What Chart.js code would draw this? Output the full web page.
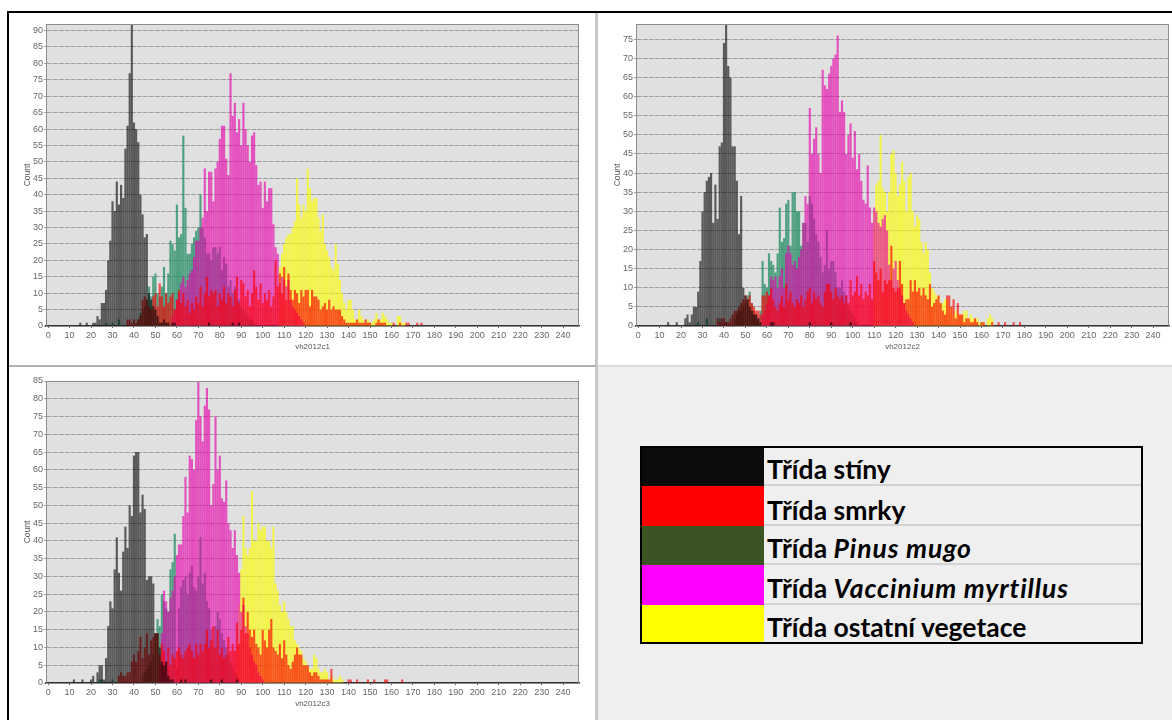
<!DOCTYPE html>
<html>
<head>
<meta charset="utf-8">
<script src="https://cdn.jsdelivr.net/npm/chart.js@4"></script>
<style>
    html, body { margin: 0; padding: 0; background: #fff; }
    body { position: relative; width: 1172px; height: 720px; overflow: hidden; }
    .line { position: absolute; }
    canvas { position: absolute; filter: blur(0.4px); }
    #legend {
        position: absolute; left: 640px; top: 446px; width: 499px; height: 194px;
        border: 2px solid #000; font: bold 26.5px Lato, sans-serif; color: #000;
    }
    #legend div.row { position: relative; padding-left: 125px; box-sizing: border-box; border-bottom: 2px solid #d2d2d2; }
    #legend div.row:last-child { border-bottom: 0; }
    #legend span.swatch { position: absolute; left: 0; top: 0; width: 122px; height: 100%; }
    #legend i { letter-spacing: 0.9px; }
</style>
</head>
<body>
<div class="line" style="left:597px;top:366px;width:575px;height:354px;background:#efefef"></div>
<div class="line" style="left:7px;top:11px;width:1165px;height:2px;background:#000"></div>
<div class="line" style="left:7px;top:11px;width:2px;height:709px;background:#000"></div>
<div class="line" style="left:595px;top:13px;width:3px;height:707px;background:#c8c8c8"></div>
<div class="line" style="left:9px;top:365px;width:587px;height:2px;background:#b0b0b0"></div>
<div class="line" style="left:598px;top:365px;width:574px;height:2px;background:#dcdcdc"></div>

<canvas id="chart1" width="565" height="342" style="left:20px;top:14px"></canvas>
<canvas id="chart2" width="565" height="342" style="left:610px;top:14px"></canvas>
<canvas id="chart3" width="565" height="342" style="left:20px;top:371px"></canvas>

<div id="legend">
    <div class="row" style="height:38px;line-height:42px"><span class="swatch" style="background:#0c0c0c;height:38px"></span>Třída stíny</div>
    <div class="row" style="height:40px;line-height:48px"><span class="swatch" style="background:#ff0000;height:40px"></span>Třída smrky</div>
    <div class="row" style="height:39px;line-height:44px"><span class="swatch" style="background:#3a5423;height:39px"></span>Třída <i>Pinus mugo</i></div>
    <div class="row" style="height:40px;line-height:46px"><span class="swatch" style="background:#ff00ff;height:40px"></span>Třída <i>Vaccinium myrtillus</i></div>
    <div class="row" style="height:37px;line-height:44px"><span class="swatch" style="background:#ffff00;height:37px"></span>Třída ostatní vegetace</div>
</div>

<script>
// Counts per bin. Every array starts at the bin in its *From constant.

// vh2012c1
const c1StinyFrom = 15;
const c1Stiny = [1,0,0,1,0,0,1,1,3,2,7,7,11,20,26,38,35,44,37,43,39,54,61,77,95,62,60,56,40,34,27,28,10,8,6,5,3,1,1,2,1,1,0,1,1,
    0,0,0,0,0,0,0,0,0,0,0,0,0,0,0,1,0,0,0,0,0,0,0,0,0,0,1,0,0,1];
const c1SmrkyFrom = 37;
const c1Smrky = [2,2,1,2,1,2,3,8,9,8,6,5,9,10,6,13,9,6,10,7,9,10,5,8,11,7,10,6,8,4,7,5,9,7,12,6,10,15,9,11,10,11,6,10,8,12,7,10,9,6,11,15,7,14,13,9,11,6,10,17,12,8,13,7,10,8,11,6,9,20,12,16,10,18,8,16,11,8,11,10,7,11,9,11,11,6,11,9,9,8,5,6,7,5,8,5,6,5,5,5,3,2,1,1,1,1,1,2,1,1,1,2,1,1,0,0,1,2,1,1,1,0,0,0,1,0,0,1,0,0,1,1,0,0,0,1,0,1];
const c1PinusFrom = 27;
const c1Pinus = [1,0,0,1,0,0,2,0,0,0,0,0,0,0,0,2,4,5,6,8,12,9,15,16,10,9,12,18,10,16,26,25,23,37,27,28,58,36,22,22,25,27,29,30,40,30,27,22,22,20,24,24,22,24,17,21,19,12,14,10,12,8,8,6,5,4,3,2,2,1];
const c1VacciniumFrom = 58;
const c1Vaccinium = [3,5,8,10,13,15,12,14,16,17,21,26,26,30,33,48,35,47,47,38,48,50,57,61,61,51,46,77,64,68,59,63,55,68,60,55,50,58,59,49,43,44,36,44,38,42,42,31,24,22,13,15,14,12,14,8,6,5,4,3,2,1];
const c1OstatniFrom = 108;
const c1Ostatni = [18,22,25,27,28,28,30,32,45,37,33,37,35,48,42,38,39,39,33,29,34,25,23,21,18,17,25,19,14,10,7,5,8,8,5,2,2,5,3,2,1,2,1,1,2,4,2,2,4,3,2,1,1,0,0,3,3,1,1];

// vh2012c2
const c2StinyFrom = 14;
const c2Stiny = [1,0,0,0,1,0,0,0,2,3,1,3,5,5,9,17,30,35,38,39,40,27,37,28,47,48,74,85,68,65,47,47,38,24,34,10,8,7,5,4,3,3,2,1,0,0,0,0,1,1,
    0,0,0,0,0,0,0,0,0,0,0,0,0,0,0,0,1,0,0,0,0,0,0,0,0,0,1,0,0,0,0,0,0,0,0,1];
const c2SmrkyFrom = 37;
const c2Smrky = [2,1,2,2,1,1,2,3,4,4,5,6,7,8,7,8,6,5,4,4,3,8,8,9,8,10,7,5,4,6,8,5,11,7,9,6,5,7,6,8,5,7,9,10,6,9,7,8,6,5,9,11,11,9,7,10,8,7,8,6,8,6,12,8,9,13,8,11,7,9,8,11,7,17,14,12,15,9,12,11,12,21,10,9,10,17,11,6,7,7,12,9,12,9,10,8,10,8,7,11,5,6,7,8,6,4,3,8,8,5,7,2,6,3,3,1,2,2,1,1,2,1,0,1,1,0,0,0,1,0,0,1,0,0,1,0,0,0,1,0,0,1];
const c2PinusFrom = 28;
const c2Pinus = [1,0,0,0,2,0,0,0,0,0,2,0,0,1,0,0,0,2,3,4,4,5,6,8,9,6,4,3,2,4,17,11,10,19,17,16,14,19,31,22,23,32,33,21,35,35,30,30,21,27,27,22,34,32,28,24,22,18,14,16,25,15,17,17,14,10,10,12,9,8,5,4,3,2,1];
const c2VacciniumFrom = 58;
const c2Vaccinium = [3,4,6,8,13,12,13,10,13,15,10,19,21,19,16,17,15,18,20,27,34,32,57,45,49,52,45,40,67,63,62,66,68,70,71,76,56,59,56,45,50,53,44,51,41,45,38,33,32,42,31,27,31,30,27,26,28,29,25,16,12,15,17,12,10,8,6,4,3,2,1];
const c2OstatniFrom = 110;
const c2Ostatni = [30,37,38,50,36,35,30,35,45,46,40,34,37,43,38,30,39,40,30,26,29,28,22,19,22,20,14,10,9,8,8,6,6,7,7,5,5,3,4,3,3,3,4,4,2,3,2,2,2,1,1,1,0,2,3,2];

// vh2012c3
const c3StinyFrom = 12;
const c3Stiny = [1,0,0,0,1,0,0,0,1,2,0,3,5,5,1,7,16,23,21,32,41,31,26,37,44,38,50,47,64,65,65,48,53,49,29,30,30,28,14,14,10,6,5,6,2,1,1,0,0,0,1,0,1,0,0,0,
    0,0,0,0,0,0,0,0,1,0,0,0,0,1,0,0,0,0,0,0,1,0];
const c3SmrkyFrom = 33;
const c3Smrky = [2,3,2,2,3,3,6,8,6,9,13,7,10,14,8,12,13,14,14,8,11,9,6,10,5,8,7,9,10,8,7,9,10,11,9,7,11,8,11,9,11,15,10,12,16,10,15,8,10,7,8,13,9,11,9,17,11,15,24,14,20,15,13,15,11,10,8,15,12,10,15,18,10,9,8,11,7,12,8,5,4,6,8,10,8,8,5,5,5,3,2,3,3,2,1,1,1,1,1,4,0,0,0,0,0,0,0,1,1,0,0,1,0,0,0,0,1,0,0,1,0,0,0,0,1,1,0,0,0,0,0,0,1];
const c3PinusFrom = 24;
const c3Pinus = [1,1,0,0,0,0,1,0,0,0,0,0,0,0,0,0,0,0,0,0,2,3,4,5,6,8,14,18,16,25,23,21,20,32,34,42,4,21,27,29,30,25,31,33,27,26,30,41,28,31,23,21,15,10,16,20,18,14,12,10,8,6,4,3,2,1];
const c3VacciniumFrom = 52;
const c3Vaccinium = [5,14,26,23,20,24,26,30,36,39,39,47,58,48,64,63,60,74,88,75,68,78,83,77,50,56,75,60,64,52,51,57,45,43,38,43,36,31,20,22,16,14,10,8,6,5,3,2,1];
const c3OstatniFrom = 88;
const c3Ostatni = [10,22,32,47,38,36,38,54,40,40,45,43,44,44,40,40,38,44,28,26,22,20,23,20,18,16,16,12,11,10,9,7,6,5,4,4,8,7,4,3,3,4,3,1,2,1,1,1,2,1];

const xTicksStep = 10;
const yTicksStep = 5;
const xMin = -1;
const xMax = 247.4;
const tickFont = { family: '"Liberation Sans"', size: 9 };

// turn a bin array into {x, y} points for the linear x scale
function toPoints(from, values) {
    return values.map((v, i) => ({ x: from + i, y: v })).filter(p => p.y > 0);
}

// plot background and the thin frame around it
const plotFrame = {
    id: 'plotFrame',
    beforeDraw(chart) {
        const a = chart.chartArea;
        chart.ctx.fillStyle = '#e0e0e0';
        chart.ctx.fillRect(a.left, a.top, a.width, a.height);
    },
    afterDatasetsDraw(chart) {
        const a = chart.chartArea;
        chart.ctx.strokeStyle = '#8c8c8c';
        chart.ctx.lineWidth = 1;
        chart.ctx.strokeRect(a.left + 0.5, a.top + 0.5, a.width - 1, a.height);
    }
};

function makeHistogram(id, xTitle, yMax, series) {
    // first dataset ends up on top: black over red over magenta over green over yellow
    const datasets = [
        { data: toPoints(series.stiny[0], series.stiny[1]), backgroundColor: 'rgba(0,0,0,0.6)' },
        { data: toPoints(series.smrky[0], series.smrky[1]), backgroundColor: 'rgba(252,0,0,0.65)' },
        { data: toPoints(series.vaccinium[0], series.vaccinium[1]), backgroundColor: 'rgba(230,0,172,0.64)' },
        { data: toPoints(series.pinus[0], series.pinus[1]), backgroundColor: 'rgba(32,139,99,0.75)' },
        { data: toPoints(series.ostatni[0], series.ostatni[1]), backgroundColor: 'rgba(255,255,0,0.65)' }
    ];

    return new Chart(document.getElementById(id), {
        type: 'bar',
        data: { datasets: datasets },
        plugins: [plotFrame],
        options: {
            responsive: false,
            animation: false,
            layout: { padding: { top: 10, right: 6, left: 0, bottom: 0 } },
            // inflateAmount 0, the default overlaps neighbouring bars and darkens the seams
            datasets: { bar: { grouped: false, barThickness: 2.15, borderWidth: 0, inflateAmount: 0 } },
            plugins: { legend: { display: false }, tooltip: { enabled: false } },
            scales: {
                x: {
                    type: 'linear',
                    offset: false,
                    min: xMin,
                    max: xMax,
                    afterFit: (s) => { s.height = 30; },
                    grid: { offset: false, drawOnChartArea: false, drawTicks: true, tickLength: 2, color: '#555' },
                    border: { color: '#333', width: 1.5 },
                    ticks: {
                        stepSize: xTicksStep, includeBounds: false, autoSkip: false, maxRotation: 0,
                        padding: 2, color: '#666', font: tickFont
                    },
                    title: {
                        display: true, text: xTitle, color: '#555', padding: { top: 0, bottom: 4 },
                        font: { family: '"Liberation Sans"', size: 8 }
                    }
                },
                y: {
                    min: 0,
                    max: yMax,
                    afterFit: (s) => { s.width = 26; },
                    grid: { color: '#a0a0a0', lineWidth: 1, tickLength: 2, tickBorderDash: [], drawTicks: true },
                    border: { color: '#8c8c8c', dash: [5, 1] },
                    ticks: { stepSize: yTicksStep, includeBounds: false, padding: 1, color: '#666', font: tickFont },
                    title: {
                        display: true, text: 'Count', color: '#555', padding: { top: 3, bottom: 0 },
                        font: { family: '"Liberation Sans"', size: 8.5 }
                    }
                }
            }
        }
    });
}

makeHistogram('chart1', 'vh2012c1', 92, {
    stiny: [c1StinyFrom, c1Stiny], smrky: [c1SmrkyFrom, c1Smrky], pinus: [c1PinusFrom, c1Pinus],
    vaccinium: [c1VacciniumFrom, c1Vaccinium], ostatni: [c1OstatniFrom, c1Ostatni]
});
makeHistogram('chart2', 'vh2012c2', 79, {
    stiny: [c2StinyFrom, c2Stiny], smrky: [c2SmrkyFrom, c2Smrky], pinus: [c2PinusFrom, c2Pinus],
    vaccinium: [c2VacciniumFrom, c2Vaccinium], ostatni: [c2OstatniFrom, c2Ostatni]
});
makeHistogram('chart3', 'vh2012c3', 85, {
    stiny: [c3StinyFrom, c3Stiny], smrky: [c3SmrkyFrom, c3Smrky], pinus: [c3PinusFrom, c3Pinus],
    vaccinium: [c3VacciniumFrom, c3Vaccinium], ostatni: [c3OstatniFrom, c3Ostatni]
});
</script>
</body>
</html>
